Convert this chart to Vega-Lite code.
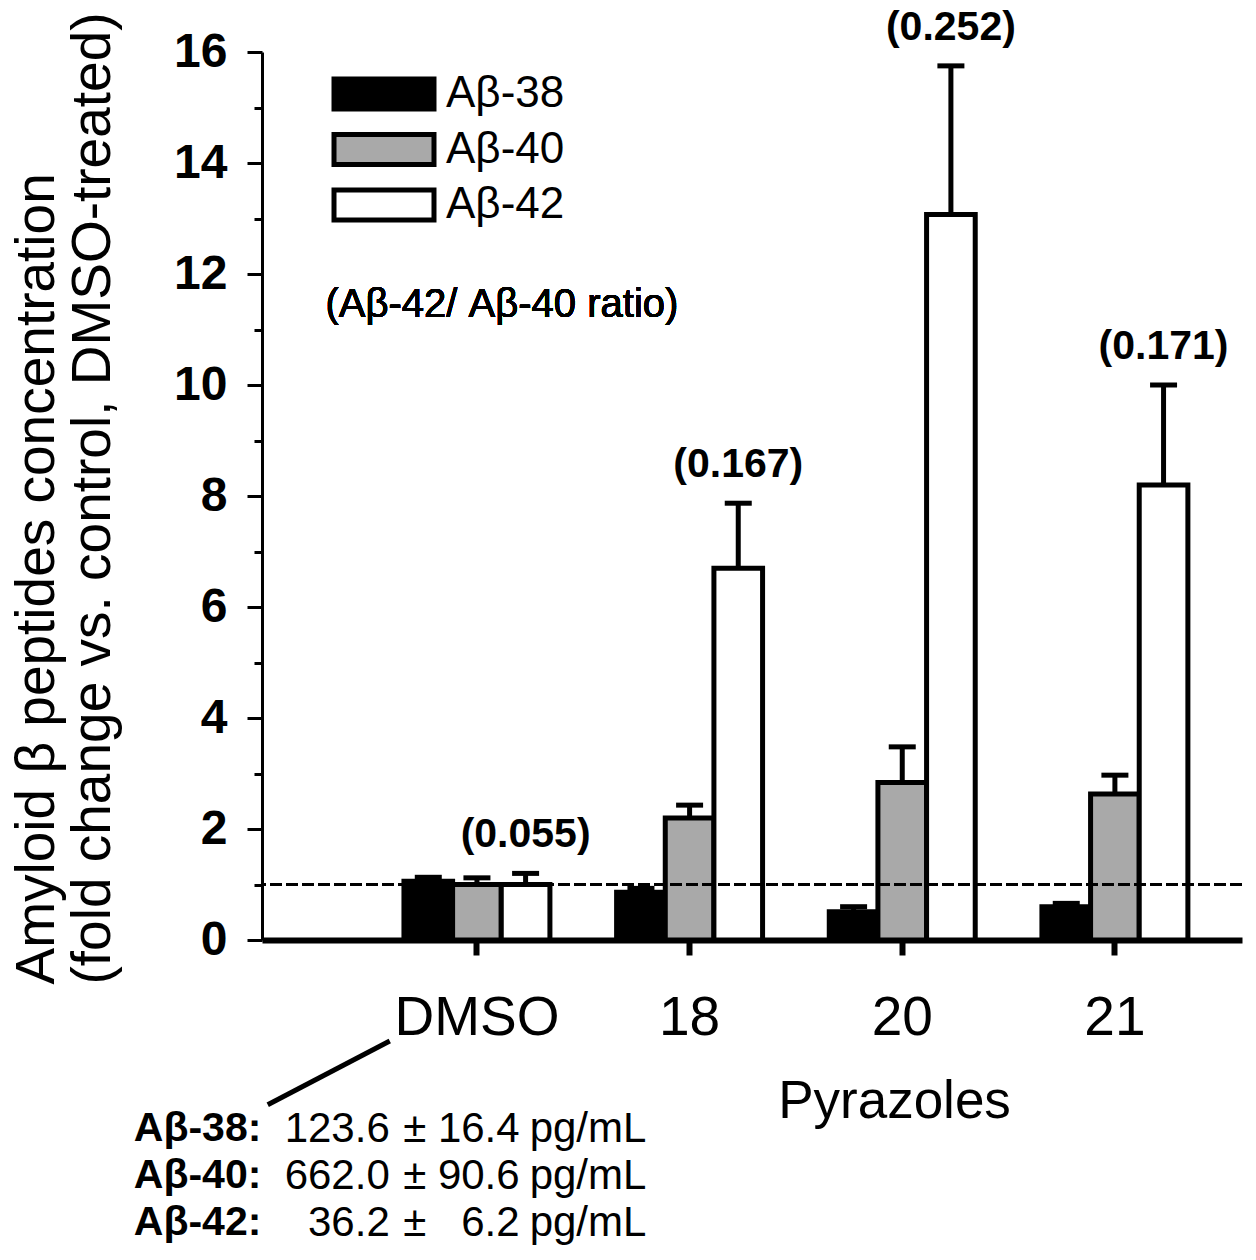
{
  "$schema": "https://vega.github.io/schema/vega-lite/v6.json",
  "autosize": {"type": "none"},
  "padding": {"left": 262, "top": 52, "right": 14, "bottom": 320},
  "width": 980,
  "height": 888,
  "config": {
    "view": {"stroke": null},
    "font": "Liberation Sans",
    "text": {"font": "Liberation Sans", "color": "black"}
  },
  "datasets": {
    "bars": [
      {"group": "DMSO", "peptide": "Aβ-38", "mean": 1.06, "upper": 1.13},
      {"group": "DMSO", "peptide": "Aβ-40", "mean": 1.0, "upper": 1.12},
      {"group": "DMSO", "peptide": "Aβ-42", "mean": 1.0, "upper": 1.2, "ratio": "(0.055)"},
      {"group": "18", "peptide": "Aβ-38", "mean": 0.86, "upper": 0.93},
      {"group": "18", "peptide": "Aβ-40", "mean": 2.2, "upper": 2.43},
      {"group": "18", "peptide": "Aβ-42", "mean": 6.7, "upper": 7.87, "ratio": "(0.167)"},
      {"group": "20", "peptide": "Aβ-38", "mean": 0.51, "upper": 0.6},
      {"group": "20", "peptide": "Aβ-40", "mean": 2.84, "upper": 3.48},
      {"group": "20", "peptide": "Aβ-42", "mean": 13.07, "upper": 15.75, "ratio": "(0.252)"},
      {"group": "21", "peptide": "Aβ-38", "mean": 0.6, "upper": 0.66},
      {"group": "21", "peptide": "Aβ-40", "mean": 2.63, "upper": 2.97},
      {"group": "21", "peptide": "Aβ-42", "mean": 8.2, "upper": 10.0, "ratio": "(0.171)"}
    ],
    "baseline": [
      {"peptide": "Aβ-38:", "mean": "123.6", "sd": "16.4"},
      {"peptide": "Aβ-40:", "mean": "662.0", "sd": "90.6"},
      {"peptide": "Aβ-42:", "mean": "36.2", "sd": "6.2"}
    ]
  },
  "resolve": {"scale": {"x": "independent", "y": "independent"}},
  "layer": [
    {
      "data": {"name": "bars"},
      "encoding": {
        "x": {
          "field": "group",
          "type": "nominal",
          "sort": ["DMSO", "18", "20", "21"],
          "scale": {"paddingInner": 0.3136, "paddingOuter": 0.461, "align": 0.724},
          "axis": {
            "title": "Pyrazoles",
            "titleFont": "Liberation Sans",
            "titleFontSize": 53,
            "titleFontWeight": "normal",
            "titleColor": "black",
            "titleX": 632,
            "titleY": 177,
            "titleAlign": "center",
            "titleBaseline": "alphabetic",
            "labelAngle": 0,
            "labelFont": "Liberation Sans",
            "labelFontSize": 55,
            "labelColor": "black",
            "labelPadding": 36,
            "tickSize": 15,
            "tickWidth": 6,
            "tickColor": "black",
            "domainColor": "black",
            "domainWidth": 6
          }
        },
        "xOffset": {
          "field": "peptide",
          "type": "nominal",
          "sort": ["Aβ-38", "Aβ-40", "Aβ-42"],
          "scale": {"paddingInner": 0, "paddingOuter": 0}
        },
        "y": {
          "field": "mean",
          "type": "quantitative",
          "scale": {"domain": [0, 16], "nice": false, "zero": true},
          "axis": {
            "values": [0, 1, 2, 3, 4, 5, 6, 7, 8, 9, 10, 11, 12, 13, 14, 15, 16],
            "labelExpr": "datum.value % 2 === 0 ? datum.label : ''",
            "grid": false,
            "labelFont": "Liberation Sans",
            "labelFontSize": 48,
            "labelFontWeight": "bold",
            "labelColor": "black",
            "labelPadding": 20,
            "tickSize": {"condition": {"test": "datum.value % 2 === 0", "value": 15}, "value": 8},
            "tickWidth": 3,
            "tickColor": "black",
            "domainColor": "black",
            "domainWidth": 3,
            "title": ["Amyloid β peptides concentration", "(fold change vs. control, DMSO-treated)"],
            "titleFont": "Liberation Sans",
            "titleFontSize": 55,
            "titleFontWeight": "normal",
            "titleColor": "black",
            "titleAngle": -90,
            "titleAlign": "left",
            "titleBaseline": "top",
            "titleX": -252,
            "titleY": 932,
            "titleLineHeight": 56
          }
        }
      },
      "layer": [
        {
          "mark": {"type": "bar", "stroke": "black", "strokeWidth": 5},
          "encoding": {
            "fill": {
              "field": "peptide",
              "type": "nominal",
              "scale": {"domain": ["Aβ-38", "Aβ-40", "Aβ-42"], "range": ["#000000", "#a9a9a9", "#ffffff"]},
              "legend": {
                "orient": "none",
                "legendX": 100,
                "legendY": 20,
                "title": null,
                "padding": 0,
                "symbolType": "M-3.333,-1H3.333V1H-3.333Z",
                "symbolSize": 900,
                "symbolStrokeWidth": 5,
                "symbolStrokeColor": "black",
                "labelFont": "Liberation Sans",
                "labelFontSize": 44,
                "labelColor": "black",
                "labelOffset": 40,
                "rowPadding": 5.5
              }
            }
          }
        },
        {
          "mark": {"type": "rule", "strokeDash": [12, 4], "strokeWidth": 2, "color": "black"},
          "encoding": {"x": null, "xOffset": null, "y": {"datum": 1}}
        },
        {
          "mark": {"type": "rule", "strokeWidth": 5, "color": "black"},
          "encoding": {"y2": {"field": "upper"}}
        },
        {
          "mark": {"type": "tick", "orient": "horizontal", "size": 27, "thickness": 5, "color": "black", "opacity": 1},
          "encoding": {"y": {"field": "upper", "type": "quantitative"}}
        },
        {
          "transform": [{"filter": "datum.ratio != null"}],
          "mark": {"type": "text", "fontWeight": "bold", "fontSize": 41, "baseline": "middle", "align": "center", "dy": -38},
          "encoding": {"y": {"field": "upper", "type": "quantitative"}, "text": {"field": "ratio"}}
        },
        {
          "mark": {"type": "text", "fontSize": 40, "baseline": "middle", "align": "center", "dx": 25, "text": "(Aβ-42/ Aβ-40 ratio)"},
          "encoding": {"x": {"datum": "DMSO"}, "xOffset": null, "y": {"datum": 11.44}}
        }
      ]
    },
    {
      "data": {"name": "baseline"},
      "encoding": {
        "y": {
          "field": "peptide",
          "type": "ordinal",
          "scale": {"type": "point", "range": [1077, 1171], "padding": 0},
          "axis": null
        }
      },
      "layer": [
        {
          "mark": {"type": "text", "fontSize": 41, "fontWeight": "bold", "align": "left", "baseline": "middle"},
          "encoding": {
            "x": {"datum": -0.613, "type": "quantitative", "scale": {"domain": [-0.01, 4.6], "nice": false, "zero": false}, "axis": null},
            "text": {"field": "peptide"}
          }
        },
        {
          "mark": {"type": "text", "fontSize": 42, "align": "right", "baseline": "middle"},
          "encoding": {"x": {"datum": 0.591, "type": "quantitative"}, "text": {"field": "mean"}}
        },
        {
          "mark": {"type": "text", "fontSize": 42, "align": "center", "baseline": "middle", "text": "±"},
          "encoding": {"x": {"datum": 0.709, "type": "quantitative"}}
        },
        {
          "mark": {"type": "text", "fontSize": 42, "align": "right", "baseline": "middle"},
          "encoding": {"x": {"datum": 1.202, "type": "quantitative"}, "text": {"field": "sd"}}
        },
        {
          "mark": {"type": "text", "fontSize": 42, "align": "left", "baseline": "middle", "text": "pg/mL"},
          "encoding": {"x": {"datum": 1.249, "type": "quantitative"}}
        }
      ]
    },
    {
      "data": {"values": [{}]},
      "mark": {"type": "rule", "strokeWidth": 5, "color": "black"},
      "encoding": {
        "x": {"datum": 0.017, "type": "quantitative", "scale": {"domain": [-0.01, 4.6], "nice": false, "zero": false}, "axis": null},
        "x2": {"datum": 0.591},
        "y": {"datum": -2.97, "type": "quantitative", "scale": {"domain": [0, 16], "nice": false, "zero": false}, "axis": null},
        "y2": {"datum": -1.82}
      }
    }
  ]
}
